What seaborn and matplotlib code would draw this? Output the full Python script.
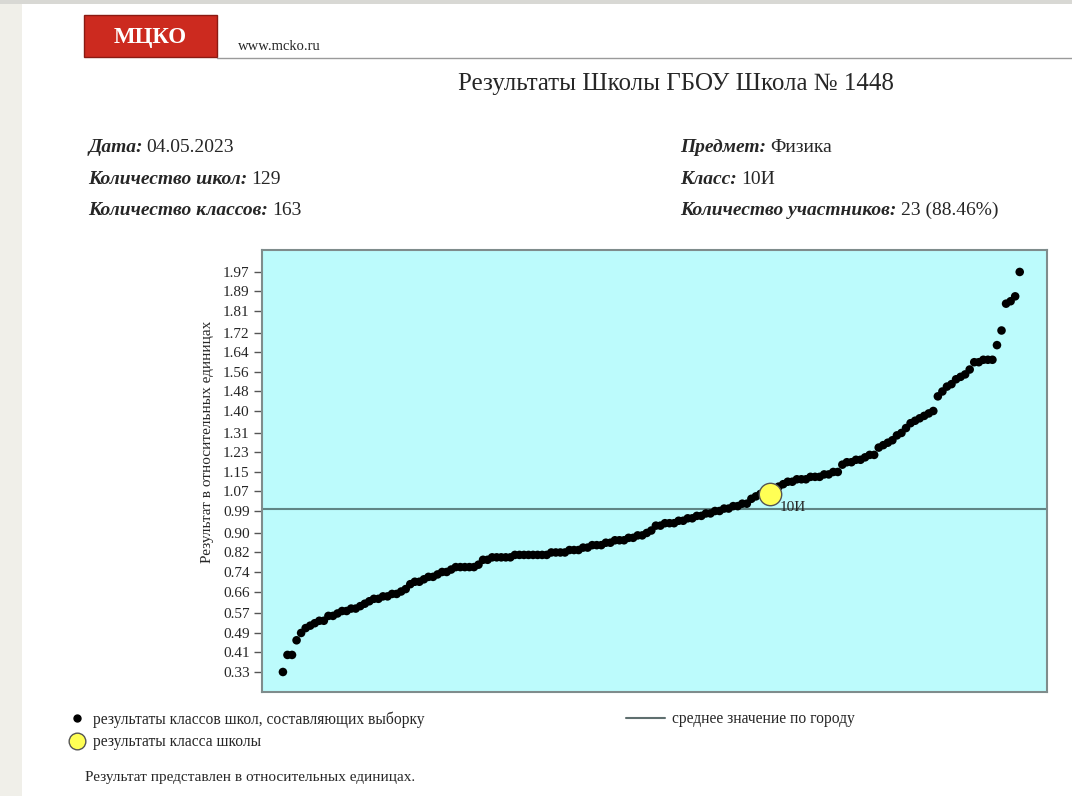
import matplotlib.pyplot as plt
import numpy as np
import pandas as pd
import seaborn as sns
from matplotlib.lines import Line2D
from matplotlib.patches import Rectangle

# --- data ---
class_results = [
    0.33, 0.40, 0.40, 0.46, 0.49, 0.51, 0.52, 0.53, 0.54, 0.54,
    0.56, 0.56, 0.57, 0.58, 0.58, 0.59, 0.59, 0.60, 0.61, 0.62,
    0.63, 0.63, 0.64, 0.64, 0.65, 0.65, 0.66, 0.67, 0.69, 0.70,
    0.70, 0.71, 0.72, 0.72, 0.73, 0.74, 0.74, 0.75, 0.76, 0.76,
    0.76, 0.76, 0.76, 0.77, 0.79, 0.79, 0.80, 0.80, 0.80, 0.80,
    0.80, 0.81, 0.81, 0.81, 0.81, 0.81, 0.81, 0.81, 0.81, 0.82,
    0.82, 0.82, 0.82, 0.83, 0.83, 0.83, 0.84, 0.84, 0.85, 0.85,
    0.85, 0.86, 0.86, 0.87, 0.87, 0.87, 0.88, 0.88, 0.89, 0.89,
    0.90, 0.91, 0.93, 0.93, 0.94, 0.94, 0.94, 0.95, 0.95, 0.96,
    0.96, 0.97, 0.97, 0.98, 0.98, 0.99, 0.99, 1.00, 1.00, 1.01,
    1.01, 1.02, 1.02, 1.04, 1.05, 1.06, 1.06, 1.06, 1.08, 1.09,
    1.10, 1.11, 1.11, 1.12, 1.12, 1.12, 1.13, 1.13, 1.13, 1.14,
    1.14, 1.15, 1.15, 1.18, 1.19, 1.19, 1.20, 1.20, 1.21, 1.22,
    1.22, 1.25, 1.26, 1.27, 1.28, 1.30, 1.31, 1.33, 1.35, 1.36,
    1.37, 1.38, 1.39, 1.40, 1.46, 1.48, 1.50, 1.51, 1.53, 1.54,
    1.55, 1.57, 1.60, 1.60, 1.61, 1.61, 1.61, 1.67, 1.73, 1.84,
    1.85, 1.87, 1.97,
]
school_class = "10И"
school_rank = 107
school_result = 1.06
city_mean = 1.00

ytick_labels = ["0.33", "0.41", "0.49", "0.57", "0.66", "0.74", "0.82",
                "0.90", "0.99", "1.07", "1.15", "1.23", "1.31", "1.40",
                "1.48", "1.56", "1.64", "1.72", "1.81", "1.89", "1.97"]

info_left = [("Дата:", "04.05.2023"), ("Количество школ:", "129"),
             ("Количество классов:", "163")]
info_right = [("Предмет:", "Физика"), ("Класс:", "10И"),
              ("Количество участников:", "23 (88.46%)")]

df = pd.DataFrame({"rank": np.arange(len(class_results)), "result": class_results})
school_df = pd.DataFrame({"rank": [school_rank], "result": [school_result]})

sns.set_style("white")
plt.rcParams["font.family"] = ["Liberation Serif", "DejaVu Serif"]

W, H = 1072, 796
fig = plt.figure(figsize=(W / 100, H / 100), dpi=100)

# screenshot frame: grey strip on the left and top
fig.patches.append(Rectangle((0, 0), 22 / W, 1, transform=fig.transFigure,
                             facecolor="#f0efe9", edgecolor="none", zorder=0))
fig.patches.append(Rectangle((0, 1 - 4 / H), 1, 4 / H, transform=fig.transFigure,
                             facecolor="#d8d8d4", edgecolor="none", zorder=0))

# --- header ---
fig.patches.append(Rectangle((84 / W, 1 - 57 / H), 133 / W, 42 / H,
                             transform=fig.transFigure, facecolor="#cc2a1f",
                             edgecolor="#8a1a12", linewidth=1, zorder=1))
fig.text(150 / W, 1 - 37 / H, "МЦКО", color="white", fontsize=16.5,
         fontweight="bold", ha="center", va="center")
fig.text(238 / W, 1 - 46 / H, "www.mcko.ru", fontsize=10.5, ha="left", va="center")
fig.lines.append(Line2D([217 / W, 1], [1 - 57.5 / H, 1 - 57.5 / H],
                        transform=fig.transFigure, color="#9a9a9a", linewidth=1))
fig.text(676 / W, 1 - 84 / H, "Результаты Школы ГБОУ Школа № 1448",
         fontsize=18, ha="center", va="center")


def info_line(x, y, label, value):
    t = fig.text(x / W, 1 - y / H, label, fontsize=14, fontweight="bold",
                 fontstyle="italic", ha="left", va="baseline")
    plt.annotate(value, xy=(1, 0), xycoords=t, xytext=(3, 0),
                 textcoords="offset points", fontsize=14,
                 ha="left", va="bottom", annotation_clip=False)


ax = fig.add_axes([262 / W, 1 - 692 / H, 785 / W, 442 / H])

for i, (lab, val) in enumerate(info_left):
    info_line(88, 152 + i * 31.5, lab, val)
for i, (lab, val) in enumerate(info_right):
    info_line(680, 152 + i * 31.5, lab, val)

# --- chart ---
ax.set_facecolor("#bcfbfc")
ax.axhline(city_mean, color="#5f8585", linewidth=1.5, zorder=1)
sns.scatterplot(data=df, x="rank", y="result", ax=ax, color="black",
                s=38, edgecolor="none", zorder=2, legend=False)
sns.scatterplot(data=school_df, x="rank", y="result", ax=ax, color="#ffff55",
                s=260, edgecolor="#555555", linewidth=1, zorder=3, legend=False)
ax.annotate(school_class, xy=(school_rank, school_result), xytext=(7, -10),
            textcoords="offset points", fontsize=11, ha="left", va="center")

ax.set_xlim(-4.6, 168)
ax.set_ylim(0.248, 2.06)
ax.set_xticks([])
ax.set_yticks([float(v) for v in ytick_labels])
ax.set_yticklabels(ytick_labels)
ax.tick_params(axis="y", direction="out", length=6, width=1, color="#555555",
               labelsize=11, pad=3, left=True)
ax.set_xlabel("")
ax.set_ylabel("Результат в относительных единицах", fontsize=11)
ax.yaxis.set_label_coords(-0.061, 0.566)
for sp in ax.spines.values():
    sp.set_color("#7f8c8c")
    sp.set_linewidth(1.5)

# --- legend and footnote ---
dot_handles = [
    Line2D([], [], marker="o", linestyle="none", color="black", markersize=5),
    Line2D([], [], marker="o", linestyle="none", markerfacecolor="#ffff55",
           markeredgecolor="#555555", markersize=12),
]
dot_labels = ["результаты классов школ, составляющих выборку",
              "результаты класса школы"]
fig.legend(dot_handles, dot_labels, loc="upper left",
           bbox_to_anchor=(67 / W, 1 - 711 / H), frameon=False, fontsize=11.2,
           handlelength=1.3, handletextpad=0.35, labelspacing=0.45,
           borderaxespad=0, borderpad=0)
fig.legend([Line2D([], [], color="#5f6f6f", linewidth=1.5)],
           ["среднее значение по городу"], loc="upper left",
           bbox_to_anchor=(626 / W, 1 - 711 / H), frameon=False, fontsize=11.2,
           handlelength=2.5, handletextpad=0.45, borderaxespad=0, borderpad=0)

fig.text(85 / W, 1 - 777 / H, "Результат представлен в относительных единицах.",
         fontsize=11, ha="left", va="center")

fig.savefig("out.png", dpi=100, facecolor="white")
